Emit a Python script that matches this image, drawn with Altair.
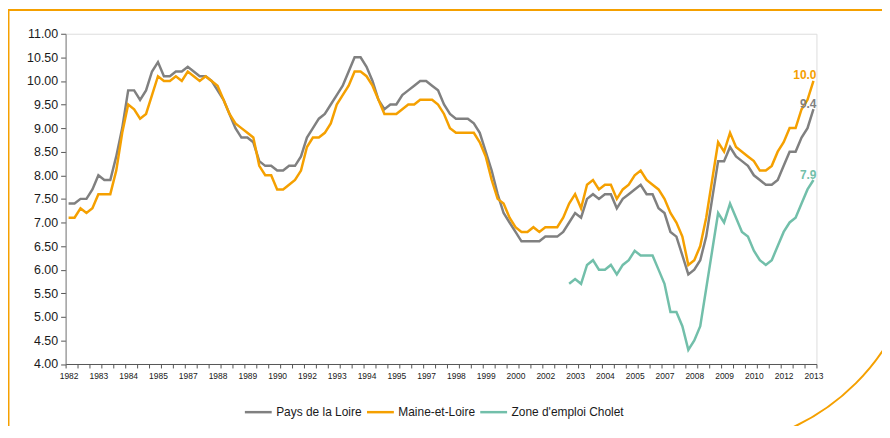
import altair as alt
import pandas as pd

series_names = ["Pays de la Loire", "Maine-et-Loire", "Zone d'emploi Cholet"]
series_colors = ["#808080", "#F5A000", "#72BFAA"]

# quarterly values, 1982 Q1 .. 2013 Q2
pays = [
    7.4, 7.4, 7.5, 7.5, 7.7, 8.0, 7.9, 7.9, 8.4, 9.0,
    9.8, 9.8, 9.6, 9.8, 10.2, 10.4, 10.1, 10.1, 10.2, 10.2,
    10.3, 10.2, 10.1, 10.1, 10.0, 9.8, 9.6, 9.3, 9.0, 8.8,
    8.8, 8.7, 8.3, 8.2, 8.2, 8.1, 8.1, 8.2, 8.2, 8.4,
    8.8, 9.0, 9.2, 9.3, 9.5, 9.7, 9.9, 10.2, 10.5, 10.5,
    10.3, 10.0, 9.6, 9.4, 9.5, 9.5, 9.7, 9.8, 9.9, 10.0,
    10.0, 9.9, 9.8, 9.5, 9.3, 9.2, 9.2, 9.2, 9.1, 8.9,
    8.5, 8.1, 7.6, 7.2, 7.0, 6.8, 6.6, 6.6, 6.6, 6.6,
    6.7, 6.7, 6.7, 6.8, 7.0, 7.2, 7.1, 7.5, 7.6, 7.5,
    7.6, 7.6, 7.3, 7.5, 7.6, 7.7, 7.8, 7.6, 7.6, 7.3,
    7.2, 6.8, 6.7, 6.3, 5.9, 6.0, 6.2, 6.7, 7.5, 8.3,
    8.3, 8.6, 8.4, 8.3, 8.2, 8.0, 7.9, 7.8, 7.8, 7.9,
    8.2, 8.5, 8.5, 8.8, 9.0, 9.4,
]
maine = [
    7.1, 7.1, 7.3, 7.2, 7.3, 7.6, 7.6, 7.6, 8.1, 8.9,
    9.5, 9.4, 9.2, 9.3, 9.7, 10.1, 10.0, 10.0, 10.1, 10.0,
    10.2, 10.1, 10.0, 10.1, 10.0, 9.9, 9.6, 9.3, 9.1, 9.0,
    8.9, 8.8, 8.2, 8.0, 8.0, 7.7, 7.7, 7.8, 7.9, 8.1,
    8.6, 8.8, 8.8, 8.9, 9.1, 9.5, 9.7, 9.9, 10.2, 10.2,
    10.1, 9.9, 9.6, 9.3, 9.3, 9.3, 9.4, 9.5, 9.5, 9.6,
    9.6, 9.6, 9.5, 9.3, 9.0, 8.9, 8.9, 8.9, 8.9, 8.7,
    8.4, 7.9, 7.5, 7.4, 7.1, 6.9, 6.8, 6.8, 6.9, 6.8,
    6.9, 6.9, 6.9, 7.1, 7.4, 7.6, 7.3, 7.8, 7.9, 7.7,
    7.8, 7.8, 7.5, 7.7, 7.8, 8.0, 8.1, 7.9, 7.8, 7.7,
    7.5, 7.2, 7.0, 6.7, 6.1, 6.2, 6.5, 7.1, 7.9, 8.7,
    8.5, 8.9, 8.6, 8.5, 8.4, 8.3, 8.1, 8.1, 8.2, 8.5,
    8.7, 9.0, 9.0, 9.4, 9.6, 10.0,
]
cholet_start = 84  # 2003 Q1
cholet = [
    5.7, 5.8, 5.7, 6.1, 6.2, 6.0, 6.0, 6.1, 5.9, 6.1,
    6.2, 6.4, 6.3, 6.3, 6.3, 6.0, 5.7, 5.1, 5.1, 4.8,
    4.3, 4.5, 4.8, 5.6, 6.4, 7.2, 7.0, 7.4, 7.1, 6.8,
    6.7, 6.4, 6.2, 6.1, 6.2, 6.5, 6.8, 7.0, 7.1, 7.4,
    7.7, 7.9,
]
first_year = 1982
label_step = 5            # one year label every 5 quarters
y_ticks = [4 + 0.5 * k for k in range(15)]

rows = []
for i, v in enumerate(pays):
    rows.append({"q": i, "value": v, "series": series_names[0]})
for i, v in enumerate(maine):
    rows.append({"q": i, "value": v, "series": series_names[1]})
for k, v in enumerate(cholet):
    rows.append({"q": cholet_start + k, "value": v, "series": series_names[2]})
df = pd.DataFrame(rows)
last = df.sort_values("q").groupby("series").tail(1)

n = len(pays)
tick_vals = sorted([-0.5 + 2 * k for k in range(n // 2 + 1)] + [float(v) for v in range(0, n, label_step)])

FONT = "Liberation Sans"
ORANGE = "#F5A000"

x_enc = alt.X(
    "q:Q",
    scale=alt.Scale(domain=[-0.5, n - 0.5], nice=False, zero=False),
    axis=alt.Axis(
        values=tick_vals,
        labelExpr=f"datum.value % {label_step} == 0 ? '' + (floor(datum.value / 4) + {first_year}) : ''",
        tickOpacity={"condition": {"test": f"datum.value % {label_step} == 0", "value": 0}, "value": 1},
        title=None, grid=False, tickSize=4, labelPadding=4, labelOverlap=False,
        labelFlush=False, labelFontSize=8.5, labelColor="#1a1a1a",
        domainColor="#555555", tickColor="#555555", labelFont=FONT,
    ),
)
y_enc = alt.Y(
    "value:Q",
    scale=alt.Scale(domain=[4, 11], nice=False, zero=False),
    axis=alt.Axis(
        values=y_ticks, format=".2f", title=None, grid=False, tickSize=5,
        labelPadding=3, labelFontSize=12.5, labelColor="#1a1a1a", labelOverlap=False,
        domainColor="#808080", tickColor="#555555", labelFont=FONT,
    ),
)
color_scale = alt.Scale(domain=series_names, range=series_colors)
color_enc = alt.Color(
    "series:N",
    scale=color_scale,
    legend=alt.Legend(
        title=None, orient="none", legendX=179, legendY=366, direction="horizontal",
        symbolType="stroke", symbolSize=730, symbolStrokeWidth=2.5,
        labelFontSize=12, labelFont=FONT, labelColor="#1a1a1a",
        columnPadding=-1, labelOffset=3,
    ),
)

lines = alt.Chart(df).mark_line(strokeWidth=2.5).encode(
    x=x_enc, y=y_enc, color=color_enc, order="q:Q"
)
end_labels = alt.Chart(last).mark_text(
    align="right", baseline="middle", dx=3, dy=-5.5, fontWeight="bold", fontSize=12, font=FONT
).encode(
    x=x_enc, y=y_enc,
    text=alt.Text("value:Q", format=".1f"),
    color=color_enc,
)
frame = alt.Chart(pd.DataFrame({"f": [0]})).mark_rect(
    filled=False, stroke=ORANGE, strokeWidth=2, cornerRadiusBottomRight=220
).encode(
    x=alt.value(-57.5), x2=alt.value(860), y=alt.value(-24), y2=alt.value(416.5)
)

chart = alt.layer(frame, lines, end_labels).properties(
    width=756, height=332.5,
    autosize=alt.AutoSizeParams(type="none"),
    padding={"left": 58, "top": 24.5, "right": 66, "bottom": 61},
).configure_view(strokeWidth=0).configure(font=FONT)

chart.save("out.html", embed_options={"renderer": "svg", "actions": False})
